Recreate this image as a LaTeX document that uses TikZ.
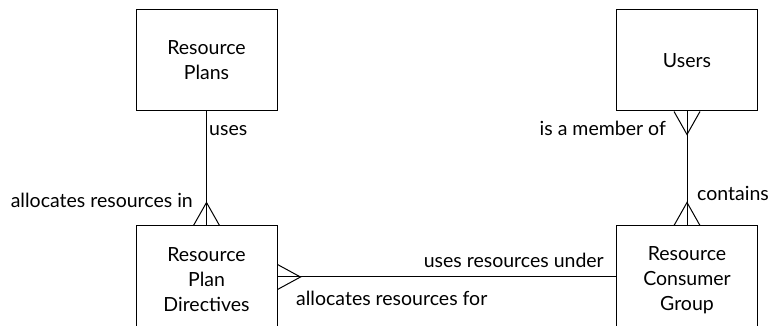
\documentclass[tikz,border=0pt]{standalone}
\usepackage{fontspec}
\setmainfont{Lato}
\usepackage{tikz}
\usetikzlibrary{positioning}
\tikzstyle{e} = [rectangle, draw=black, line width=1pt, align=center, inner sep=0pt, minimum width=141pt, minimum height=101pt, font=\fontsize{19.5}{25}\selectfont]
\tikzstyle{t} = [inner sep=0pt, font=\fontsize{19.5}{25}\selectfont]
\tikzstyle{c} = [black, line width=1pt]

\begin{document}
\begin{tikzpicture}[x=1pt, y=1pt]
		\useasboundingbox (0,0) rectangle (768,326);
		\clip (0,0) rectangle (768,326);

		% entities
		\node[e] (plans) at (206.5,265.5) {Resource\\Plans};
		\node[e] (users) at (687,265.5) {Users};
		\node[e, minimum height=108pt] (directives) at (206.5,46) {Resource\\Plan\\Directives};
		\node[e, minimum height=108pt] (group) at (687,46) {Resource\\Consumer\\Group};

		% plans -< directives
		\draw[c] (plans) -- (directives);
		\draw[c] ([xshift=-13pt]directives.north) -- ([yshift=23pt]directives.north) -- ([xshift=13pt]directives.north);

		% users >-< group
		\draw[c] (users) -- (group);
		\draw[c] ([xshift=-13pt]users.south) -- ([yshift=-23pt]users.south) -- ([xshift=13pt]users.south);
		\draw[c] ([xshift=-13pt]group.north) -- ([yshift=23pt]group.north) -- ([xshift=13pt]group.north);

		% directives >- group
		\coordinate (d) at ([yshift=3pt]directives.east);
		\coordinate (g) at ([yshift=3pt]group.west);
		\draw[c] (d) -- (g);
		\draw[c] ([yshift=12.5pt]d) -- ([xshift=23pt]d) -- ([yshift=-12.5pt]d);

		% roles
		\node[t, anchor=base west] (uses) at (209,190) {uses};
		\node[t, anchor=base east] (alloc in) at (193,118) {allocates resources in};
		\node[t, anchor=base east] (member) at (666,190) {is a member of};
		\node[t, anchor=base west] (contains) at (697,125) {contains};
		\node[t, anchor=base east] (under) at (604,58) {uses resources under};
		\node[t, anchor=base west] (alloc for) at (296,20) {allocates resources for};
	\end{tikzpicture}
\end{document}
